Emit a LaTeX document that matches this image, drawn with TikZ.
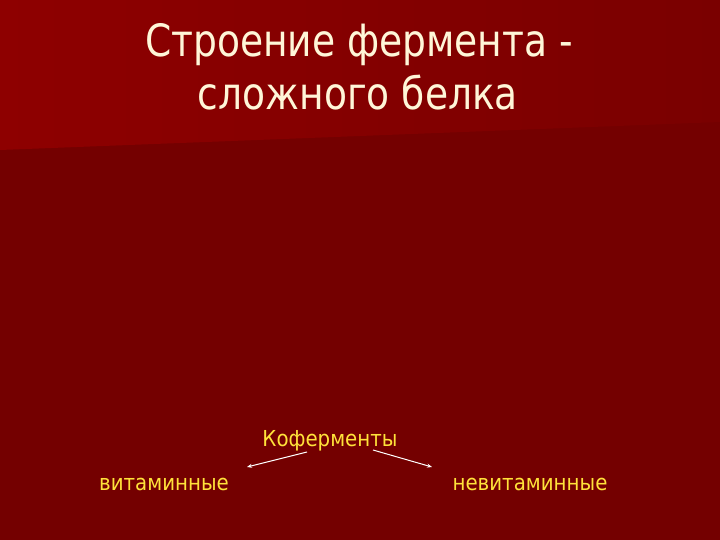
\documentclass[tikz,border=0pt]{standalone}
\usepackage{fontspec}
\setmainfont{DejaVu Sans}[FakeStretch=0.845]
\newfontfamily\labfont{DejaVu Sans}[FakeStretch=0.9]
\usetikzlibrary{arrows.meta}
\definecolor{bgdark}{HTML}{740000}
\definecolor{bgtopL}{HTML}{8E0000}
\definecolor{bgtopR}{HTML}{7A0000}
\definecolor{titlecol}{HTML}{FFF6D8}
\definecolor{labcol}{HTML}{FFE23A}
\tikzset{
  titletext/.style={text=titlecol, font=\fontsize{44.5}{53}\selectfont, inner sep=0pt, anchor=base},
  labtext/.style={text=labcol, font=\labfont\fontsize{22}{26}\selectfont, inner sep=0pt, anchor=base},
  arr/.style={draw=white, line width=1pt, -{Stealth[length=5pt,width=4pt]}}
}
\begin{document}
\begin{tikzpicture}[x=1pt,y=-1pt]
\useasboundingbox (0,0) rectangle (720,540);
\fill[bgdark] (0,0) rectangle (720,540);
\shade[left color=bgtopL, right color=bgtopR] (0,0) -- (720,0) -- (720,122) -- (0,150) -- cycle;
\node[titletext] (t1) at (359,57) {Строение фермента -};
\node[titletext] (t2) at (358,110) {сложного белка};
\node[labtext] (kof) at (330,446) {Коферменты};
\node[labtext] (vit) at (164,490) {витаминные};
\node[labtext] (nevit) at (530,490) {невитаминные};
\coordinate (a1s) at (307,452);
\coordinate (a1e) at (247,467);
\coordinate (a2s) at (373,450);
\coordinate (a2e) at (432,467);
\draw[arr] (a1s) -- (a1e);
\draw[arr] (a2s) -- (a2e);
\end{tikzpicture}
\end{document}
